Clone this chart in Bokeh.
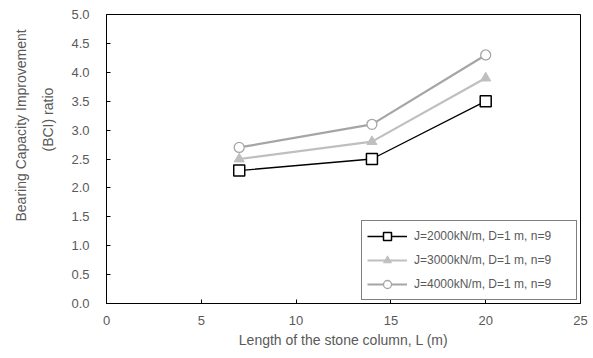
from bokeh.plotting import figure
from bokeh.models import Range1d, Legend, LegendItem, SingleIntervalTicker, PrintfTickFormatter, Title
from bokeh.embed import file_html
from bokeh.resources import INLINE

L = [7, 14, 20]
bci_2000 = [2.3, 2.5, 3.5]
bci_3000 = [2.5, 2.8, 3.9]
bci_4000 = [2.7, 3.1, 4.3]
labels = ["J=2000kN/m, D=1 m, n=9", "J=3000kN/m, D=1 m, n=9", "J=4000kN/m, D=1 m, n=9"]
x_title = "Length of the stone column, L (m)"
y_title = ["Bearing Capacity Improvement", "(BCI) ratio"]

FONT = "Liberation Sans"
TXT = "#595959"

p = figure(width=593, height=358, output_backend="svg", toolbar_location=None,
           x_range=Range1d(0, 25), y_range=Range1d(0, 5),
           min_border_left=106, min_border_right=13, min_border_top=14, min_border_bottom=55)
p.background_fill_color = "white"
p.border_fill_color = "white"
p.outline_line_color = "black"
p.outline_line_width = 1
p.grid.visible = False

p.xaxis.ticker = SingleIntervalTicker(interval=5)
p.yaxis.ticker = SingleIntervalTicker(interval=0.5)
p.yaxis.formatter = PrintfTickFormatter(format="%.1f")
for ax in (p.xaxis[0], p.yaxis[0]):
    ax.major_tick_in = 4
    ax.major_tick_out = 0
    ax.minor_tick_line_color = None
    ax.axis_line_color = "black"
    ax.major_tick_line_color = "black"
    ax.major_label_text_font = FONT
    ax.major_label_text_font_size = "13px"
    ax.major_label_text_color = TXT
    ax.axis_label_text_font = FONT
    ax.axis_label_text_font_size = "14px"
    ax.axis_label_text_color = TXT
    ax.axis_label_text_font_style = "normal"
p.xaxis.axis_label = x_title
p.xaxis.major_label_standoff = 8
p.yaxis.major_label_standoff = 13
p.xaxis.axis_label_standoff = 4

# two-line y title, each line as a side title (closest to axis first)
t2 = Title(text=y_title[1], align="left", offset=152, vertical_align="top", standoff=21,
           text_font=FONT, text_font_size="14px", text_font_style="normal", text_color=TXT)
t1 = Title(text=y_title[0], align="left", offset=82, vertical_align="middle", standoff=0,
           text_font=FONT, text_font_size="14px", text_font_style="normal", text_color=TXT)
p.add_layout(t2, "left")
p.add_layout(t1, "left")

l1 = p.line(L, bci_2000, line_color="black", line_width=1.3)
m1 = p.scatter(L, bci_2000, marker="square", size=11, fill_color="white", line_color="black", line_width=1.5)
l2 = p.line(L, bci_3000, line_color="#bfbfbf", line_width=2.2)
m2 = p.scatter(L, bci_3000, marker="triangle", size=10, fill_color="#bfbfbf", line_color="#bfbfbf")
l3 = p.line(L, bci_4000, line_color="#a5a5a5", line_width=2.2)
m3 = p.scatter(L, bci_4000, marker="circle", size=10, fill_color="white", line_color="#a5a5a5", line_width=1.3)

legend = Legend(items=[LegendItem(label=labels[0], renderers=[l1, m1]),
                       LegendItem(label=labels[1], renderers=[l2, m2]),
                       LegendItem(label=labels[2], renderers=[l3, m3])],
                location="bottom_right", glyph_width=40, glyph_height=20,
                label_text_font=FONT, label_text_font_size="12px", label_text_color=TXT,
                border_line_color="black", border_line_width=1, background_fill_alpha=1,
                spacing=4, padding=5, margin=3, label_standoff=7, label_width=157)
p.add_layout(legend)

open("out.html", "w").write(file_html(p, INLINE))
